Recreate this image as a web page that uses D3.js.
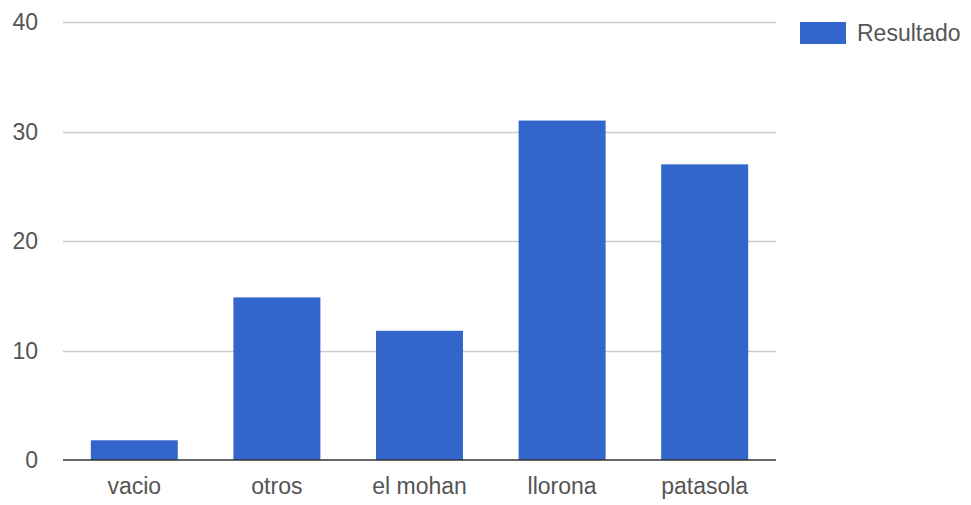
<!DOCTYPE html>
<html>
<head>
<meta charset="utf-8">
<script src="https://cdn.jsdelivr.net/npm/d3@7"></script>
<style>
  html, body { margin: 0; padding: 0; background: #fff; }
  svg { display: block; }
  text { font-family: Arial, "Liberation Sans", sans-serif; fill: #555; }
</style>
</head>
<body>
<svg id="chart" width="971" height="505"></svg>
<script>
// Categories and their results
const categories = ["vacio", "otros", "el mohan", "llorona", "patasola"];
const values = [1.8, 14.85, 11.8, 31, 27];
const yTicks = [0, 10, 20, 30, 40];
const seriesName = "Resultado";

const svg = d3.select("#chart");
const plotLeft = 63, plotRight = 776, plotTop = 22, plotBottom = 460;

const x = d3.scaleBand()
  .domain(categories)
  .range([plotLeft, plotRight])
  .paddingInner(0.39)
  .paddingOuter(0.195);

const y = d3.scaleLinear()
  .domain([0, 40])
  .range([plotBottom, plotTop]);

// Horizontal gridlines
svg.append("g")
  .selectAll("line")
  .data(yTicks.filter(d => d !== 0))
  .join("line")
  .attr("x1", plotLeft).attr("x2", plotRight)
  .attr("y1", d => Math.round(y(d)) + 0.5)
  .attr("y2", d => Math.round(y(d)) + 0.5)
  .attr("stroke", "#cccccc")
  .attr("stroke-width", 1.5);

// Y tick labels
svg.append("g")
  .selectAll("text")
  .data(yTicks)
  .join("text")
  .attr("x", 38)
  .attr("y", d => y(d))
  .attr("dy", "0.36em")
  .attr("text-anchor", "end")
  .attr("font-size", 23)
  .text(d => d);

// Bars
svg.append("g")
  .selectAll("rect")
  .data(categories.map((c, i) => ({ c, v: values[i] })))
  .join("rect")
  .attr("x", d => x(d.c))
  .attr("width", x.bandwidth())
  .attr("y", d => y(d.v))
  .attr("height", d => y(0) - y(d.v))
  .attr("fill", "#3366cc");

// Baseline
svg.append("line")
  .attr("x1", plotLeft).attr("x2", plotRight)
  .attr("y1", y(0)).attr("y2", y(0))
  .attr("stroke", "#333333")
  .attr("stroke-width", 1.5);

// X category labels
svg.append("g")
  .selectAll("text")
  .data(categories)
  .join("text")
  .attr("x", d => x(d) + x.bandwidth() / 2)
  .attr("y", 494)
  .attr("text-anchor", "middle")
  .attr("font-size", 23)
  .text(d => d);

// Legend
const legend = svg.append("g");
legend.append("rect")
  .attr("x", 800).attr("y", 22)
  .attr("width", 46).attr("height", 22)
  .attr("fill", "#3366cc");
legend.append("text")
  .attr("x", 857).attr("y", 33)
  .attr("dy", "0.36em")
  .attr("font-size", 23)
  .text(seriesName);
</script>
</body>
</html>
